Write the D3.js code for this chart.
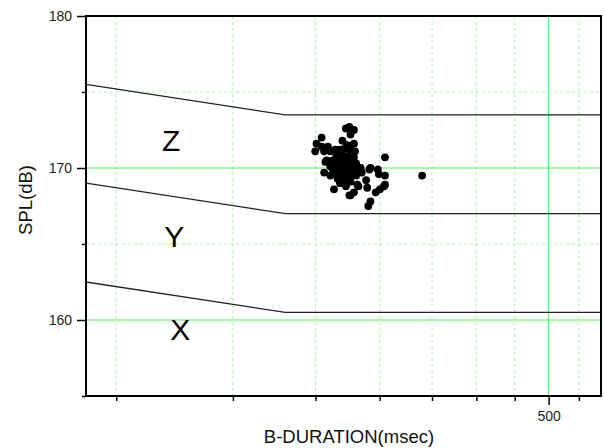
<!DOCTYPE html>
<html><head><meta charset="utf-8">
<script src="https://cdn.jsdelivr.net/npm/d3@7"></script>
<style>body{margin:0;background:#fff}svg{display:block;font-family:Arial,"Liberation Sans",sans-serif}</style>
</head><body><svg id="c" width="604" height="448"></svg>
<script>
// ---- data ----
const xDomain = [100, 600];
const yDomain = [155, 180];
const xTickValues = [111.1, 166.7, 222.2, 277.8, 333.3, 388.9, 444.4, 500, 555.6];
const xLabelledTicks = [500];
const yMajorTicks = [160, 170, 180];
const yMinorTicks = [155, 165, 175];
const yGridSolid = [160, 170];
const yGridDashed = [165, 175];
const boundaryDuration = [100, 200, 600];
const boundaryZY = [175.5, 173.5, 173.5];
const boundaryYX = [169.0, 167.0, 167.0];
const boundaryXLow = [162.5, 160.5, 160.5];
const zoneLabels = ["Z", "Y", "X"];
const zoneLabelDuration = [134.5, 135.9, 138.8];
const zoneLabelSPL = [171.8, 165.5, 159.4];
const duration = [250,254,251,247,254,227,223,232,227,222,229,234,230,229,283,
  238,242,246.5,251,255,239,244,249,254,236,241,246.5,252,256,234,238,243,249,254,
  236,241,246.5,252,256,240,245,251,247,242,260,268,276,277,283,261,265,283,282,278,
  274,266,258,257,254,251,250,269,267,322,260,269,231,234,244,248,237,253,
  240,245,250,243,248,252,238,246,255,241,249,244];
const spl = [172.7,172.5,172.2,172.6,171.6,172.0,171.6,171.4,171.4,171.1,171.1,171.1,170.4,169.7,170.7,
  171.2,171.2,171.3,171.2,171.1,170.8,170.9,170.8,170.7,170.5,170.5,170.4,170.4,170.3,170.1,170.1,170.0,170.0,170.0,
  169.7,169.7,169.6,169.5,169.5,169.3,169.2,169.1,168.8,169.0,169.8,169.9,169.9,169.6,169.5,169.7,169.2,168.9,168.8,168.6,
  168.4,168.7,168.8,168.9,168.4,168.2,168.2,167.8,167.5,169.5,170.0,170.0,170.5,169.5,171.8,171.5,168.6,169.9,
  170.9,170.6,170.6,170.3,170.2,169.9,169.9,169.8,169.8,169.4,169.4,169.0];

// ---- layout ----
const L = 86, R = 601, T = 16, B = 396;
const svg = d3.select("#c");
const x = d3.scaleLog().domain(xDomain).range([L, R]);
const y = d3.scaleLinear().domain(yDomain).range([B, T]);

// grid
const g = svg.append("g");
g.selectAll(".vg").data(xTickValues).join("line")
  .attr("x1", d => x(d)).attr("x2", d => x(d)).attr("y1", T).attr("y2", B)
  .attr("stroke", d => xLabelledTicks.includes(d) ? "#55ee55" : "#a8f2a8")
  .attr("stroke-width", 1)
  .attr("stroke-dasharray", d => xLabelledTicks.includes(d) ? null : "3,3");
g.selectAll(".hgd").data(yGridDashed).join("line")
  .attr("x1", L).attr("x2", R).attr("y1", d => y(d)).attr("y2", d => y(d))
  .attr("stroke", "#a8f2a8").attr("stroke-dasharray", "3,3");
g.selectAll(".hgs").data(yGridSolid).join("line")
  .attr("x1", L).attr("x2", R).attr("y1", d => y(d)).attr("y2", d => y(d))
  .attr("stroke", "#55ee55");

// boundaries
const line = d3.line().x(d => x(d[0])).y(d => y(d[1]));
[boundaryZY, boundaryYX, boundaryXLow].forEach(b => {
  svg.append("path").datum(boundaryDuration.map((d, i) => [d, b[i]]))
    .attr("d", line).attr("fill", "none").attr("stroke", "#222").attr("stroke-width", 1.3);
});

// zone labels
svg.selectAll(".zl").data(zoneLabels).join("text")
  .attr("x", (d, i) => x(zoneLabelDuration[i])).attr("y", (d, i) => y(zoneLabelSPL[i]))
  .attr("dy", "0.36em").attr("text-anchor", "middle")
  .attr("font-size", 30).attr("fill", "#000").text(d => d);

// points
svg.selectAll(".pt").data(duration).join("circle")
  .attr("cx", d => x(d)).attr("cy", (d, i) => y(spl[i])).attr("r", 3.9).attr("fill", "#000");

// axes
const fmt = d => xLabelledTicks.includes(d) ? String(d) : "";
const ax1 = svg.append("g").attr("transform", `translate(0,${B})`)
  .call(d3.axisBottom(x).tickValues(xTickValues.filter(d => !xLabelledTicks.includes(d))).tickSize(5).tickFormat(""));
const ax2 = svg.append("g").attr("transform", `translate(0,${B})`)
  .call(d3.axisBottom(x).tickValues(xLabelledTicks).tickSize(9).tickPadding(6).tickFormat(fmt));
const ay1 = svg.append("g").attr("transform", `translate(${L},0)`)
  .call(d3.axisLeft(y).tickValues(yMajorTicks).tickSize(9).tickPadding(5).tickFormat(d3.format("d")));
const ay2 = svg.append("g").attr("transform", `translate(${L},0)`)
  .call(d3.axisLeft(y).tickValues(yMinorTicks).tickSize(4).tickFormat(""));
[ax1, ax2, ay1, ay2].forEach(a => {
  a.select(".domain").remove();
  a.selectAll(".tick line").attr("stroke", "#000").attr("stroke-width", 1.5);
  a.selectAll("text").attr("font-size", 14).attr("fill", "#222").attr("font-family", "Arial, 'Liberation Sans', sans-serif");
});

// frame
svg.append("rect").attr("x", L).attr("y", T).attr("width", R - L).attr("height", B - T)
  .attr("fill", "none").attr("stroke", "#000").attr("stroke-width", 2);

// titles
svg.append("text").attr("x", 349).attr("y", 443).attr("text-anchor", "middle")
  .attr("font-size", 18.5).attr("fill", "#111").text("B-DURATION(msec)");
svg.append("text").attr("transform", "translate(32,200) rotate(-90)").attr("text-anchor", "middle")
  .attr("font-size", 18.5).attr("fill", "#111").text("SPL(dB)");
</script></body></html>
